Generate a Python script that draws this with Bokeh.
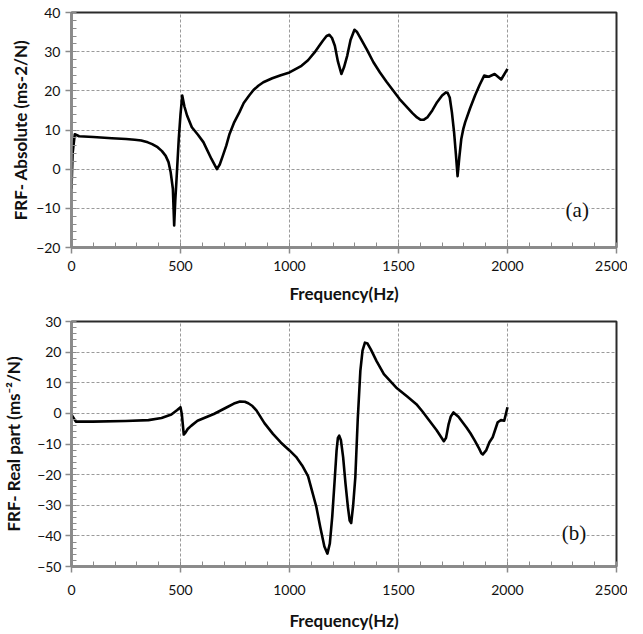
from bokeh.plotting import figure
from bokeh.layouts import column
from bokeh.models import Range1d, FixedTicker, Label
from bokeh.embed import file_html
from bokeh.resources import INLINE

# ---- data ----
freq_abs = [0, 5, 15, 35, 100, 185, 250, 290, 320, 350, 370, 395, 415, 432, 445, 455, 465,
            471, 476, 481, 492, 500, 508, 518, 530, 552, 580, 605, 642, 667, 680, 694, 710,
            725, 745, 770, 790, 815, 835, 857, 880, 921, 960, 1000, 1055, 1085, 1115, 1135,
            1153, 1170, 1183, 1195, 1208, 1222, 1238, 1250, 1265, 1280, 1298, 1310, 1332,
            1355, 1385, 1415, 1445, 1505, 1564, 1585, 1602, 1615, 1632, 1655, 1677, 1700,
            1717, 1725, 1735, 1745, 1755, 1763, 1771, 1779, 1788, 1797, 1806, 1828, 1851,
            1872, 1893, 1914, 1941, 1971, 2000]
frf_abs = [-5, 4, 8.9, 8.4, 8.2, 7.9, 7.7, 7.5, 7.3, 6.85, 6.4, 5.6, 4.6, 3.4, 1.8, -0.8, -5,
           -14.4, -8, -3.4, 7.7, 14, 18.8, 16, 13.7, 10.7, 8.8, 6.9, 2.6, 0.0, 1.2, 3.4, 6.0,
           9.0, 11.8, 14.5, 16.9, 18.8, 20.2, 21.3, 22.2, 23.2, 24.0, 24.7, 26.4, 27.8, 29.8,
           31.4, 32.8, 34.0, 34.3, 33.5, 31.5, 27.5, 24.3, 26.0, 29, 33.0, 35.6, 35.0, 32.8,
           30.5, 27.3, 24.7, 22.3, 17.9, 14.3, 13.2, 12.6, 12.6, 13.2, 15.0, 17.1, 18.8,
           19.6, 19.5, 18.3, 14.5, 9.4, 4.0, -1.8, 3.0, 7.7, 10.2, 12, 15.5, 18.8,
           21.5, 23.9, 23.6, 24.3, 22.9, 25.6]

freq_re = [0, 20, 98, 248, 353, 413, 458, 485, 500, 506, 515, 523, 533, 550, 578, 653, 713,
           745, 773, 795, 811, 830, 849, 885, 924, 960, 1000, 1030, 1058, 1085, 1103, 1123,
           1141, 1160, 1174, 1185, 1196, 1207, 1216, 1222, 1228, 1236, 1246, 1257, 1268,
           1276, 1283, 1292, 1302, 1313, 1325, 1335, 1346, 1358, 1373, 1400, 1433, 1493,
           1540, 1582, 1610, 1642, 1675, 1708, 1718, 1730, 1740, 1752, 1775, 1793, 1812,
           1830, 1850, 1870, 1880, 1887, 1902, 1917, 1932, 1955, 1970, 1985, 2000]
frf_re = [-0.4, -2.7, -2.7, -2.5, -2.2, -1.5, -0.4, 1.1, 2.0, -0.2, -6.9, -6.3, -5.1, -4.0,
          -2.4, -0.2, 2.0, 3.2, 3.9, 3.8, 3.3, 2.4, 0.9, -3.2, -6.7, -9.5, -12.1, -14.2,
          -17.0, -20.5, -25.2, -30.5, -37.1, -43.5, -45.8, -42.5, -33.8, -22, -12.1, -8.0,
          -7.3, -8.8, -14.3, -23, -30.6, -35, -35.8, -30, -20.8, -2, 13.9, 20.5, 23.1,
          22.8, 20.9, 17.0, 12.8, 8.2, 5.5, 3.0, 0.6, -2.4, -5.5, -9.1, -8.0, -3.5, -1.0,
          0.3, -1.1, -2.8, -4.6, -6.5, -8.9, -11.5, -13.0, -13.4, -12.1, -9.4, -7.8, -2.9,
          -2.2, -2.4, 2.0]

x_ticks = [0, 500, 1000, 1500, 2000, 2500]
y_ticks_abs = [-20, -10, 0, 10, 20, 30, 40]
y_ticks_re = [-50, -40, -30, -20, -10, 0, 10, 20, 30]

FONT = "Lato"


def make_fig(width, height, borders, yr, yticks, ylabel, xs, ys, tag, tag_pos,
             x_std, y_std, xlab_std, ylab_std):
    p = figure(width=width, height=height, output_backend="svg", toolbar_location=None,
               x_range=Range1d(0, 2500), y_range=Range1d(*yr),
               min_border_left=borders[0], min_border_right=borders[1],
               min_border_top=borders[2], min_border_bottom=borders[3])
    p.outline_line_color = "#2b2b2b"
    p.outline_line_width = 2
    p.background_fill_color = "white"
    p.border_fill_color = "white"

    p.xaxis.ticker = FixedTicker(ticks=x_ticks, minor_ticks=list(range(0, 2501, 100)))
    p.yaxis.ticker = FixedTicker(ticks=yticks,
                                 minor_ticks=list(range(yticks[0], yticks[-1] + 1, 2)))
    for ax in (p.xaxis[0], p.yaxis[0]):
        ax.axis_line_color = "#8a8a8a"
        ax.axis_line_width = 2.5
        ax.major_tick_line_color = "#8a8a8a"
        ax.major_tick_line_width = 1.5
        ax.major_tick_in = 0
        ax.major_tick_out = 6
        ax.minor_tick_line_color = "#8a8a8a"
        ax.minor_tick_line_width = 1
        ax.minor_tick_in = 5
        ax.minor_tick_out = 0
        ax.major_label_text_font = FONT
        ax.major_label_text_font_size = "14px"
        ax.major_label_text_color = "#111111"
        ax.axis_label_text_font = FONT
        ax.axis_label_text_font_size = "17px"
        ax.axis_label_text_font_style = "bold"
        ax.axis_label_text_color = "#111111"
    p.xaxis.axis_label = "Frequency(Hz)"
    p.yaxis.axis_label = ylabel
    p.xaxis.major_label_standoff = x_std
    p.yaxis.major_label_standoff = y_std
    p.xaxis.axis_label_standoff = xlab_std
    p.yaxis.axis_label_standoff = ylab_std

    for g in (p.xgrid[0], p.ygrid[0]):
        g.grid_line_color = "#9a9a9a"
        g.grid_line_dash = "3 2"
        g.grid_line_width = 1

    p.line(xs, ys, line_color="black", line_width=2.6, line_join="round")

    p.add_layout(Label(x=tag_pos[0], y=tag_pos[1], text=tag, text_font="Liberation Serif",
                       text_font_size="21px", text_align="center", text_baseline="middle",
                       text_color="#111111", background_fill_color="white"))
    return p


p1 = make_fig(627, 307, (61, 11, 12, 60), (-20, 40), y_ticks_abs, "FRF- Absolute (ms-2/N)",
              freq_abs, frf_abs, "(a)", (2320, -10.5), 7, 5, 9, 2)
p2 = make_fig(627, 327, (64, 8, 14, 68), (-50, 30), y_ticks_re, "FRF- Real part (ms\u207b\u00b2/N)",
              freq_re, frf_re, "(b)", (2305, -39), 12, 4, 12, 10)

layout = column(p1, p2, spacing=0)
open("out.html", "w").write(file_html(layout, INLINE))
